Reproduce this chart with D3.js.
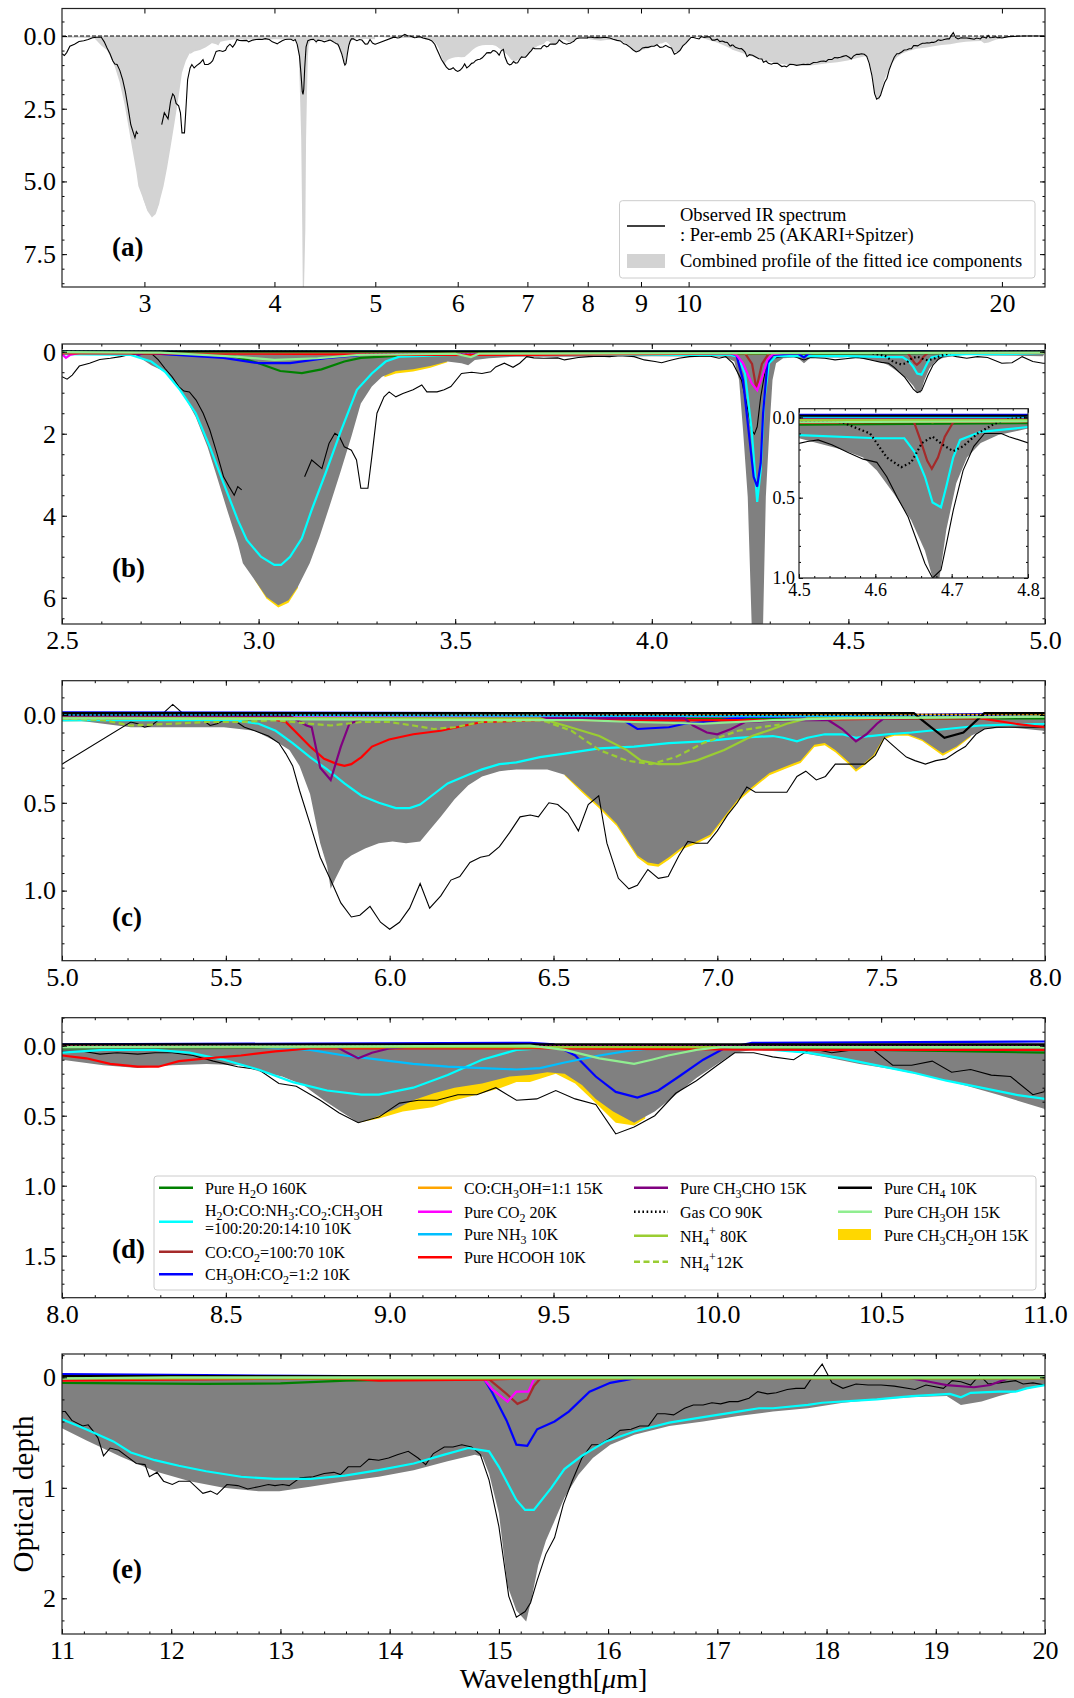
<!DOCTYPE html>
<html>
<head>
<meta charset="utf-8">
<script src="https://cdn.jsdelivr.net/npm/d3@7"></script>
<style>
body{margin:0;background:#fff}
svg text{font-family:"Liberation Serif","Times New Roman",serif;fill:#000}
</style>
</head>
<body>
<div id="chart"></div>
<script>
const width = 1074
const height = 1698
const left = 62, right = 1045

// observed spectrum (optical depth vs wavelength in um), broken near 3 um
const observed1 = [[2.5,.61],[2.513,.67],[2.526,.57],[2.544,.35],[2.57,.28],[2.596,.19],[2.623,.16],[2.649,.12],[2.675,.06],[2.70,.04],[2.727,.04],[2.745,.20],[2.762,.41],[2.78,.61],[2.797,.85],[2.81,.96],[2.824,.98],[2.841,1.18],[2.859,1.50],[2.876,1.91],[2.894,2.48],[2.911,3.05],[2.925,3.29],[2.938,3.50],[2.947,3.29],[2.957,3.37]]
const observed2 = [[3.117,3.05],[3.135,2.64],[3.161,2.85],[3.179,2.24],[3.194,1.99],[3.205,2.06],[3.218,2.32],[3.236,2.40],[3.249,2.64],[3.26,3.33],[3.278,3.33],[3.288,2.56],[3.301,1.50],[3.319,1.10],[3.332,.98],[3.349,1.10],[3.367,1.02],[3.393,.93],[3.415,.81],[3.428,.98],[3.454,.98],[3.472,.93],[3.489,.85],[3.516,.53],[3.542,.50],[3.568,.53],[3.59,.49],[3.603,.37],[3.625,.28],[3.647,.38],[3.664,.28],[3.682,.12],[3.70,.15],[3.725,.16],[3.761,.15],[3.778,.20],[3.813,.14],[3.84,.12],[3.866,.11],[3.893,.12],[3.919,.09],[3.955,.12],[3.981,.20],[4.008,.24],[4.025,.27],[4.043,.22],[4.069,.16],[4.096,.12],[4.122,.11],[4.149,.11],[4.171,.16],[4.188,.12],[4.206,.28],[4.228,.69],[4.241,1.26],[4.254,1.91],[4.261,2.01],[4.268,1.83],[4.277,1.10],[4.29,.37],[4.307,.16],[4.334,.12],[4.36,.11],[4.387,.20],[4.404,.14],[4.44,.16],[4.466,.20],[4.493,.17],[4.511,.15],[4.525,.14],[4.543,.17],[4.565,.22],[4.584,.26],[4.602,.28],[4.615,.37],[4.629,.50],[4.643,.62],[4.656,.79],[4.665,.91],[4.675,1.0],[4.686,.95],[4.693,.79],[4.702,.58],[4.715,.33],[4.729,.18],[4.743,.10],[4.765,.10],[4.775,.12],[4.801,.16],[4.828,.12],[4.854,.14],[4.89,.28],[4.916,.27],[4.942,.12],[4.969,.24],[4.995,.28],
[5.0,.28],[5.21,.04],[5.231,.05],[5.252,.07],[5.273,.06],[5.294,.03],[5.315,-.02],[5.338,-.06],[5.368,-.01],[5.40,0],[5.431,.03],[5.452,.06],[5.473,.05],[5.494,.03],[5.525,.03],[5.557,.07],[5.588,.09],[5.63,.12],[5.662,.16],[5.683,.22],[5.704,.29],[5.725,.43],[5.757,.62],[5.788,.81],[5.82,.94],[5.851,1.07],[5.883,1.15],[5.909,1.14],[5.94,1.09],[5.972,1.18],[6.0,1.22],[6.03,1.18],[6.061,1.10],[6.093,.96],[6.122,1.10],[6.156,1.03],[6.187,.94],[6.214,.92],[6.245,.84],[6.277,.81],[6.303,.80],[6.335,.75],[6.366,.67],[6.398,.58],[6.429,.57],[6.454,.58],[6.486,.50],[6.513,.51],[6.544,.56],[6.576,.66],[6.606,.51],[6.638,.46],[6.663,.73],[6.698,.93],[6.73,.99],[6.756,.97],[6.788,.88],[6.82,.93],[6.85,.92],[6.883,.80],[6.91,.72],[6.936,.73],[6.97,.73],[7.0,.66],[7.031,.57],[7.061,.50],[7.09,.41],[7.116,.44],[7.169,.44],[7.212,.44],[7.243,.35],[7.27,.32],[7.302,.37],[7.33,.35],[7.36,.28],[7.392,.28],[7.423,.28],[7.45,.28],[7.482,.23],[7.51,.13],[7.54,.18],[7.577,.24],[7.603,.26],[7.635,.28],[7.667,.26],[7.697,.25],[7.73,.21],[7.757,.18],[7.789,.11],[7.815,.08],[7.852,.07],[7.91,.07],[7.997,.07],
[8.0,.04],[8.063,.04],[8.116,.06],[8.168,.05],[8.231,.06],[8.284,.05],[8.336,.05],[8.4,.07],[8.462,.11],[8.536,.15],[8.6,.17],[8.662,.27],[8.715,.29],[8.788,.39],[8.846,.48],[8.904,.55],[8.967,.51],[9.03,.41],[9.088,.39],[9.145,.39],[9.208,.35],[9.266,.35],[9.324,.30],[9.387,.39],[9.449,.38],[9.507,.32],[9.566,.38],[9.629,.42],[9.69,.63],[9.746,.58],[9.809,.50],[9.873,.34],[9.936,.25],[10.0,.14],[10.053,.05],[10.111,.05],[10.169,.08],[10.233,.10],[10.286,.02],[10.349,.05],[10.413,.03],[10.476,.03],[10.535,.14],[10.593,.14],[10.656,.11],[10.715,.19],[10.773,.17],[10.836,.21],[10.895,.22],[10.963,.35],[10.997,.33],
[11.0,.31],[11.03,.31],[11.09,.39],[11.19,.44],[11.24,.43],[11.28,.48],[11.33,.55],[11.38,.71],[11.44,.64],[11.52,.66],[11.60,.72],[11.68,.78],[11.76,.79],[11.80,.90],[11.87,.86],[11.93,.94],[12.01,.97],[12.07,.94],[12.17,.94],[12.29,1.05],[12.36,1.03],[12.42,1.06],[12.51,.97],[12.61,.98],[12.70,1.01],[12.80,.99],[12.89,.97],[12.95,.98],[13.02,.97],[13.08,.98],[13.18,.91],[13.30,.90],[13.40,.87],[13.49,.86],[13.55,.88],[13.62,.81],[13.73,.81],[13.81,.74],[13.90,.75],[13.99,.73],[14.07,.70],[14.17,.67],[14.26,.73],[14.33,.79],[14.40,.69],[14.50,.63],[14.58,.63],[14.66,.61],[14.75,.63],[14.83,.70],[14.91,.93],[15.0,1.35],[15.09,1.98],[15.16,2.17],[15.24,2.12],[15.29,2.04],[15.35,1.84],[15.43,1.60],[15.51,1.45],[15.59,1.15],[15.67,.94],[15.76,.73],[15.85,.61],[15.92,.61],[16.02,.55],[16.11,.48],[16.21,.47],[16.29,.44],[16.37,.44],[16.45,.33],[16.52,.33],[16.60,.34],[16.70,.28],[16.78,.25],[16.87,.25],[16.95,.23],[17.03,.24],[17.11,.22],[17.19,.22],[17.29,.19],[17.37,.13],[17.46,.15],[17.54,.14],[17.64,.11],[17.72,.10],[17.80,.10],[17.89,-.03],[17.96,-.12],[18.05,.05],[18.15,.10],[18.27,.06],[18.38,.07],[18.50,.07],[18.62,.08],[18.81,.11],[18.91,.07],[19.07,.10],[19.15,.03],[19.23,.04],[19.32,.07],[19.40,-.02],[19.48,.06],[19.58,.05],[19.73,.03],[19.80,.06],[19.89,.05],[20.0,.07],[20.3,.02],[21,0],[22,0]]

// combined profile of the fitted ice components
const combinedFit = [[2.5,.06],[2.6,.06],[2.685,.08],[2.7,.16],[2.727,.33],[2.762,.49],[2.78,.69],[2.81,1.06],[2.84,1.59],[2.87,2.32],[2.894,3.05],[2.92,3.86],[2.947,4.67],[2.96,5.16],[2.99,5.57],[3.02,5.98],[3.05,6.18],[3.076,6.06],[3.10,5.73],[3.13,5.16],[3.155,4.51],[3.18,3.78],[3.207,2.97],[3.236,2.07],[3.26,1.26],[3.288,.85],[3.314,.61],[3.349,.47],[3.393,.43],[3.437,.35],[3.48,.24],[3.516,.28],[3.533,.33],[3.55,.20],[3.586,.16],[3.655,.12],[3.866,.12],[4.0,.11],[4.184,.12],[4.21,.24],[4.222,.69],[4.232,1.91],[4.244,3.54],[4.254,6.65],[4.262,10],[4.283,6.65],[4.29,3.54],[4.299,1.91],[4.307,.69],[4.316,.28],[4.334,.16],[4.37,.14],[4.387,.28],[4.404,.14],[4.484,.14],[4.5,.13],[4.556,.20],[4.584,.25],[4.602,.33],[4.625,.48],[4.647,.64],[4.665,.83],[4.675,1.0],[4.684,1.0],[4.693,.70],[4.706,.41],[4.72,.25],[4.738,.16],[4.761,.11],[4.8,.07],[4.85,.09],[4.995,.11],
[5.0,.02],[5.126,.05],[5.21,.07],[5.336,.07],[5.494,.07],[5.588,.09],[5.652,.15],[5.694,.20],[5.725,.29],[5.757,.45],[5.788,.73],[5.809,.86],[5.82,.99],[5.835,.93],[5.862,.83],[5.883,.80],[5.925,.76],[5.967,.73],[6.009,.72],[6.05,.73],[6.093,.72],[6.124,.65],[6.156,.58],[6.198,.48],[6.24,.40],[6.282,.35],[6.335,.32],[6.387,.31],[6.43,.31],[6.481,.31],[6.534,.34],[6.587,.43],[6.64,.52],[6.693,.62],[6.756,.80],[6.788,.84],[6.82,.85],[6.852,.81],[6.894,.75],[6.936,.72],[6.979,.68],[7.021,.58],[7.063,.48],[7.106,.41],[7.159,.33],[7.212,.29],[7.254,.26],[7.296,.17],[7.328,.16],[7.36,.20],[7.397,.26],[7.423,.31],[7.445,.28],[7.476,.23],[7.508,.13],[7.54,.11],[7.582,.11],[7.625,.14],[7.688,.22],[7.73,.18],[7.773,.12],[7.815,.08],[7.889,.07],[7.995,.09],
[8.0,.10],[8.126,.14],[8.231,.16],[8.336,.14],[8.441,.13],[8.546,.14],[8.61,.19],[8.672,.22],[8.736,.28],[8.799,.39],[8.851,.47],[8.904,.55],[8.946,.52],[9.02,.45],[9.072,.39],[9.135,.34],[9.198,.30],[9.282,.27],[9.366,.22],[9.428,.21],[9.481,.19],[9.534,.20],[9.587,.28],[9.629,.38],[9.682,.47],[9.746,.55],[9.809,.47],[9.873,.35],[9.936,.23],[10.0,.13],[10.053,.05],[10.106,.03],[10.169,.03],[10.254,.05],[10.328,.08],[10.434,.13],[10.54,.17],[10.646,.22],[10.752,.28],[10.857,.35],[10.997,.45],
[11.0,.46],[11.22,.57],[11.54,.72],[11.85,.85],[12.17,.94],[12.48,1.0],[12.80,1.03],[12.99,1.03],[13.27,.99],[13.59,.94],[13.90,.90],[14.22,.84],[14.53,.76],[14.78,.70],[14.85,.72],[14.91,.87],[15.0,1.23],[15.08,1.89],[15.16,2.11],[15.25,2.21],[15.30,2.0],[15.36,1.7],[15.43,1.48],[15.5,1.32],[15.60,1.09],[15.73,.88],[15.86,.73],[16.02,.61],[16.24,.52],[16.56,.44],[16.87,.40],[17.19,.35],[17.51,.31],[17.83,.28],[18.15,.23],[18.46,.20],[18.78,.18],[19.1,.17],[19.23,.25],[19.42,.22],[19.58,.17],[19.73,.13],[20.0,.07],[20.3,.02],[22,0]]

// lower edge of the CH3CH2OH contribution, where it shows below the rest
const ethanolEdge1 = [[2.99,5.57],[3.02,6.02],[3.05,6.24],[3.076,6.12],[3.10,5.76]]
const ethanolEdge2 = [[3.32,.62],[3.349,.53],[3.393,.48],[3.437,.39],[3.48,.26]]
const ethanolEdge3 = [[6.534,.345],[6.587,.442],[6.64,.532],[6.693,.632],[6.756,.812],[6.788,.855],[6.82,.864],[6.852,.824],[6.894,.763],[6.936,.733],[6.979,.693],[7.021,.593],[7.063,.493],[7.106,.423],[7.159,.343],[7.212,.303],[7.254,.273],[7.296,.183],[7.328,.173],[7.36,.213],[7.397,.273],[7.423,.323],[7.445,.293],[7.476,.243],[7.508,.138],[7.54,.118],[7.582,.118],[7.625,.148],[7.688,.232],[7.73,.188],[7.773,.125]]
const ethanolEdge4 = [[8.904,.55],[8.967,.52],[9.04,.47],[9.13,.44],[9.18,.40],[9.266,.35],[9.34,.30],[9.387,.26],[9.428,.26],[9.507,.20],[9.566,.27],[9.629,.41],[9.69,.55],[9.746,.57],[9.78,.52]]

// fitted ice components
const h2o160 = [[2.5,.04],[2.75,.05],[2.9,.09],[2.94,.12],[3.0,.28],[3.055,.47],[3.11,.52],[3.16,.43],[3.218,.24],[3.26,.15],[3.35,.10],[3.5,.08],[4.0,.06],[5.0,.03],[6.0,.02],[8.0,.02],[9.5,.01],[10.2,.02],[11.0,.05],[11.6,.055],[12.3,.06],[13.0,.055],[13.6,.03],[14.2,.02],[14.85,.01],[15.5,0],[20,0]]
const mixture = [[2.5,.06],[2.675,.08],[2.727,.24],[2.762,.49],[2.80,.93],[2.84,1.5],[2.876,2.32],[2.911,3.21],[2.947,4.1],[2.97,4.59],[3.006,5.0],[3.04,5.2],[3.057,5.2],[3.08,5.0],[3.11,4.55],[3.135,3.86],[3.17,2.97],[3.207,1.99],[3.25,.93],[3.288,.53],[3.323,.24],[3.358,.12],[3.5,.08],[4.2,.08],[4.219,.12],[4.237,.53],[4.254,1.91],[4.268,3.66],[4.277,2.89],[4.285,1.26],[4.298,.28],[4.316,.11],[4.5,.11],[4.602,.13],[4.638,.13],[4.652,.22],[4.665,.37],[4.675,.53],[4.686,.56],[4.693,.43],[4.702,.25],[4.711,.14],[4.738,.09],[4.8,.06],[4.9,.06],[5.0,.03],[5.44,.03],[5.525,.03],[5.6,.05],[5.652,.09],[5.704,.16],[5.757,.24],[5.809,.31],[5.862,.39],[5.914,.46],[5.967,.50],[6.019,.53],[6.061,.53],[6.093,.51],[6.135,.45],[6.177,.39],[6.24,.34],[6.282,.31],[6.335,.28],[6.387,.27],[6.459,.24],[6.534,.22],[6.64,.19],[6.746,.18],[6.852,.16],[6.957,.15],[7.063,.13],[7.169,.12],[7.201,.13],[7.243,.15],[7.275,.13],[7.328,.11],[7.381,.11],[7.423,.13],[7.466,.12],[7.519,.11],[7.593,.10],[7.699,.08],[7.804,.06],[7.997,.05],[8.126,.03],[8.284,.03],[8.389,.05],[8.494,.10],[8.599,.17],[8.704,.26],[8.809,.32],[8.914,.35],[8.967,.35],[9.072,.30],[9.177,.21],[9.282,.10],[9.387,.03],[9.459,.02],[9.534,.01],[9.746,.01],[10.0,.01],[10.169,.03],[10.275,.05],[10.381,.09],[10.487,.14],[10.593,.19],[10.699,.25],[10.805,.30],[10.91,.35],[11.0,.38],[11.22,.47],[11.47,.58],[11.63,.68],[11.85,.75],[12.07,.80],[12.32,.85],[12.64,.90],[12.95,.92],[13.27,.92],[13.59,.89],[13.90,.84],[14.22,.78],[14.50,.70],[14.72,.64],[14.91,.67],[15.0,.81],[15.16,1.11],[15.24,1.20],[15.32,1.20],[15.48,1.0],[15.60,.83],[15.76,.71],[15.98,.58],[16.24,.49],[16.56,.41],[16.87,.36],[17.19,.31],[17.38,.28],[17.51,.28],[17.83,.25],[17.96,.23],[18.46,.20],[18.78,.17],[19.13,.15],[19.23,.18],[19.32,.14],[19.58,.13],[19.73,.13],[19.83,.10],[20.0,.07]]
const coco2 = [[2.5,.01],[4.235,.01],[4.255,.3],[4.266,.9],[4.28,.3],[4.3,.01],[4.65,.02],[4.659,.14],[4.668,.27],[4.674,.32],[4.682,.25],[4.691,.12],[4.702,.03],[4.75,.01],[14.9,.01],[15.07,.15],[15.17,.24],[15.26,.20],[15.32,.08],[15.38,.01],[20,.01]]
const ch3ohco2 = [[2.5,.02],[2.68,.03],[2.695,.07],[2.71,.03],[2.911,.15],[3.0,.28],[3.08,.28],[3.17,.16],[3.26,.08],[3.4,.04],[4.2,.04],[4.215,.08],[4.232,.69],[4.246,1.91],[4.259,3.05],[4.268,3.29],[4.277,2.72],[4.283,1.5],[4.294,.28],[4.307,.08],[4.37,.04],[4.387,.14],[4.40,.04],[4.45,-.015],[5.0,-.015],[6.6,-.01],[6.714,.03],[6.756,.08],[6.852,.07],[6.9,.05],[6.957,.04],[7.1,.01],[8.0,-.01],[9.428,-.02],[9.5,-.01],[9.566,.07],[9.629,.22],[9.69,.33],[9.756,.37],[9.82,.32],[9.883,.22],[9.957,.10],[10.02,.02],[10.106,-.02],[11.0,-.03],[12.3,-.02],[13.6,-.01],[14.85,-.01],[14.94,.14],[15.07,.39],[15.16,.61],[15.26,.62],[15.35,.47],[15.51,.40],[15.64,.31],[15.83,.13],[16.02,.05],[16.24,.01],[16.56,-.01],[20,-.01]]
const coch3oh = [[2.5,0],[4.62,0],[4.66,.02],[4.675,.03],[4.69,.02],[4.72,0],[20,0]]
const co2pure = [[2.5,.06],[2.51,.15],[2.52,.08],[2.55,.02],[4.2,.02],[4.215,.08],[4.232,.28],[4.254,.77],[4.268,.94],[4.281,.61],[4.294,.2],[4.307,.06],[4.35,.01],[14.85,0],[14.94,.11],[15.08,.22],[15.16,.13],[15.27,.13],[15.32,.02],[15.4,0],[20,0]]
const nh3 = [[2.5,-.01],[8.0,.01],[8.6,.01],[8.757,.03],[8.862,.07],[8.967,.10],[9.072,.13],[9.177,.15],[9.282,.16],[9.387,.17],[9.459,.16],[9.534,.12],[9.64,.07],[9.746,.03],[9.85,.01],[11,.01],[12,0],[20,0]]
const hcooh = [[2.5,.04],[3.0,.05],[3.2,.06],[3.4,.08],[3.7,.08],[4.0,.06],[4.2,.04],[5.0,.02],[5.63,.02],[5.683,.04],[5.715,.10],[5.757,.18],[5.8,.25],[5.84,.28],[5.862,.29],[5.883,.28],[5.914,.24],[5.946,.18],[5.998,.14],[6.072,.11],[6.156,.09],[6.23,.06],[6.282,.04],[6.459,.03],[7.169,.03],[7.6,.02],[7.804,.02],[7.91,.05],[8.0,.07],[8.074,.09],[8.147,.13],[8.231,.15],[8.294,.15],[8.357,.11],[8.441,.09],[8.546,.07],[8.651,.04],[8.757,.02],[9.5,.02],[10.3,.03],[11.0,.03],[12.0,.02],[13.6,.01],[13.9,.03],[14.85,.02],[15.3,.01],[20,0]]
const ch3cho = [[2.5,.01],[5.7,.01],[5.746,.06],[5.762,.07],[5.788,.30],[5.82,.37],[5.851,.18],[5.877,.05],[5.92,.02],[6.9,.02],[6.926,.06],[6.968,.10],[7.0,.11],[7.042,.08],[7.085,.04],[7.2,.03],[7.339,.03],[7.381,.08],[7.423,.15],[7.455,.11],[7.487,.05],[7.508,.02],[8.0,.01],[8.84,.01],[8.862,.04],[8.904,.09],[8.946,.05],[8.998,.02],[9.05,.01],[11.0,0],[12.6,0],[12.95,.01],[13.2,0],[18.7,0],[18.78,.01],[18.94,.04],[19.1,.07],[19.35,.09],[19.5,.07],[19.66,.01],[20,0]]
const gasco = [[2.5,0],[4.5,.02],[4.556,.03],[4.593,.10],[4.615,.25],[4.634,.31],[4.647,.28],[4.661,.16],[4.675,.12],[4.688,.17],[4.702,.21],[4.715,.18],[4.734,.10],[4.756,.04],[4.775,.01],[4.8,0],[20,0]]
const nh4_80 = [[2.5,.01],[6.459,.02],[6.534,.06],[6.64,.12],[6.724,.20],[6.767,.26],[6.82,.28],[6.883,.28],[6.936,.26],[7.021,.20],[7.106,.12],[7.169,.08],[7.212,.05],[7.275,.02],[8.0,.01],[20,.01]]
const nh4_12 = [[5.0,.02],[5.126,.03],[5.21,.06],[5.336,.05],[5.441,.04],[5.546,.04],[5.651,.03],[5.757,.05],[5.82,.06],[5.914,.04],[5.998,.04],[6.072,.06],[6.135,.08],[6.198,.07],[6.282,.04],[6.459,.03],[6.481,.04],[6.555,.09],[6.64,.20],[6.724,.26],[6.798,.28],[6.873,.24],[6.957,.16],[7.063,.09],[7.169,.06],[7.19,.055]]
const ch4 = [[2.5,-.01],[7.6,-.01],[7.625,.03],[7.693,.13],[7.751,.10],[7.815,-.01],[20,-.01]]
const ch3oh15 = [[2.5,.01],[2.75,.02],[2.94,.12],[3.04,.20],[3.15,.16],[3.25,.08],[3.5,.05],[3.54,.13],[3.56,.05],[5.0,.02],[6.43,.03],[6.587,.03],[6.746,.04],[6.957,.05],[7.169,.03],[7.381,.02],[8.0,.01],[9.428,0],[9.534,.03],[9.64,.09],[9.746,.13],[9.8,.10],[9.85,.07],[9.936,.03],[10.01,.01],[11.0,.01],[12,0],[20,0]]

// tick values
const ticksA = [3,4,5,6,7,8,9,10,20]
const ticksB = [2.5,3.0,3.5,4.0,4.5,5.0]
const ticksC = [5.0,5.5,6.0,6.5,7.0,7.5,8.0]
const ticksD = [8.0,8.5,9.0,9.5,10.0,10.5,11.0]
const ticksE = [11,12,13,14,15,16,17,18,19,20]
const ticksInset = [4.5,4.6,4.7,4.8]

const components = [
  {data:h2o160, color:"#008000", label:"Pure H_2O 160K"},
  {data:mixture, color:"#00ffff", label:"H_2O:CO:NH_3:CO_2:CH_3OH", label2:"=100:20:20:14:10 10K"},
  {data:coco2, color:"#a52a2a", label:"CO:CO_2=100:70 10K"},
  {data:ch3ohco2, color:"#0000ff", label:"CH_3OH:CO_2=1:2 10K"},
  {data:coch3oh, color:"#ffa500", label:"CO:CH_3OH=1:1 15K"},
  {data:co2pure, color:"#ff00ff", label:"Pure CO_2 20K"},
  {data:nh3, color:"#00bfff", label:"Pure NH_3 10K"},
  {data:hcooh, color:"#ff0000", label:"Pure HCOOH 10K"},
  {data:ch3cho, color:"#800080", label:"Pure CH_3CHO 15K"},
  {data:gasco, color:"#000000", label:"Gas CO 90K", dash:"1.6,2.6"},
  {data:nh4_80, color:"#9acd32", label:"NH_4^+ 80K"},
  {data:nh4_12, color:"#9acd32", label:"NH_4^+12K", dash:"6,3.5"},
  {data:ch4, color:"#000000", label:"Pure CH_4 10K"},
  {data:ch3oh15, color:"#90ee90", label:"Pure CH_3OH 15K"}
]
const ethanolEdges = [ethanolEdge1, ethanolEdge2, ethanolEdge3, ethanolEdge4]

const serif = "'Liberation Serif', 'Times New Roman', serif"
const svg = d3.select("div#chart").append("svg").attr("width",width).attr("height",height)

function richText(sel, str, size){
  const parts = []
  let buf = ""
  for (let i = 0; i < str.length; i++){
    const c = str[i]
    if ((c === "_" || c === "^") && i + 1 < str.length){
      if (buf) parts.push({t:buf, s:0})
      buf = ""
      parts.push({t:str[i+1], s: c === "_" ? 1 : -1})
      i++
    } else buf += c
  }
  if (buf) parts.push({t:buf, s:0})
  let cur = 0
  parts.forEach(p => {
    const target = p.s === 1 ? size*0.25 : p.s === -1 ? -size*0.4 : 0
    sel.append("tspan").attr("dy", target - cur).attr("font-size", p.s ? size*0.75 : size).text(p.t)
    cur = target
  })
}

function minorTicks(domain, step){
  if (!step) return []
  const lo = Math.ceil(domain[0]/step - 1e-6), hi = Math.floor(domain[1]/step + 1e-6)
  return d3.range(lo, hi + 1).map(k => +(k*step).toFixed(4))
}

function drawSeries(plot, x, y, light){
  const area = d3.area().x(d => x(d[0])).y0(y(0)).y1(d => y(d[1]))
  const line = d3.line().x(d => x(d[0])).y(d => y(d[1]))
  ethanolEdges.forEach(e => plot.append("path").attr("d", area(e)).attr("fill", light ? "#d3d3d3" : "#ffd700"))
  plot.append("path").attr("d", area(combinedFit)).attr("fill", light ? "#d3d3d3" : "#808080")
  if (light){
    plot.append("line").attr("x1", left).attr("x2", right).attr("y1", y(0)).attr("y2", y(0))
      .attr("stroke","#000").attr("stroke-width",1).attr("stroke-dasharray","4,2")
  }
  ;[observed1, observed2].forEach(o => plot.append("path").attr("d", line(o)).attr("fill","none").attr("stroke","#000").attr("stroke-width",1.1))
  if (light) return
  components.forEach(c => {
    plot.append("path").attr("d", line(c.data)).attr("fill","none").attr("stroke",c.color)
      .attr("stroke-width",2.2).attr("stroke-dasharray", c.dash || null)
  })
}

function drawAxes(g, x, y, box, o){
  const bottom = box.y + box.h
  g.append("g").attr("transform",`translate(0,${bottom})`)
    .call(d3.axisBottom(x).tickValues(o.xTicks).tickSize(-o.major).tickSizeOuter(0).tickPadding(o.xPad).tickFormat(o.xFmt))
  g.append("g").attr("transform",`translate(0,${bottom})`)
    .call(d3.axisBottom(x).tickValues(o.xMinor).tickSize(-o.minor).tickSizeOuter(0).tickFormat(""))
  g.append("g").attr("transform",`translate(0,${box.y})`)
    .call(d3.axisTop(x).tickValues(o.xMinor).tickSize(-o.minor).tickSizeOuter(0).tickFormat(""))
  g.append("g").attr("transform",`translate(0,${box.y})`)
    .call(d3.axisTop(x).tickValues(o.xTicks).tickSize(-o.major).tickSizeOuter(0).tickFormat(""))
  g.append("g").attr("transform",`translate(${box.x},0)`)
    .call(d3.axisLeft(y).tickValues(o.yTicks).tickSize(-o.major).tickSizeOuter(0).tickPadding(o.yPad).tickFormat(o.yFmt))
  g.append("g").attr("transform",`translate(${box.x},0)`)
    .call(d3.axisLeft(y).tickValues(o.yMinor).tickSize(-o.minor).tickSizeOuter(0).tickFormat(""))
  g.append("g").attr("transform",`translate(${box.x+box.w},0)`)
    .call(d3.axisRight(y).tickValues(o.yMinor).tickSize(-o.minor).tickSizeOuter(0).tickFormat(""))
  g.append("g").attr("transform",`translate(${box.x+box.w},0)`)
    .call(d3.axisRight(y).tickValues(o.yTicks).tickSize(-o.major).tickSizeOuter(0).tickFormat(""))
  g.selectAll(".domain").remove()
  g.selectAll(".tick line").attr("stroke","#000").attr("stroke-width",1)
  g.selectAll(".tick text").style("font-size", o.fontSize + "px").style("font-family", serif).style("fill","#000")
  g.append("rect").attr("x",box.x).attr("y",box.y).attr("width",box.w).attr("height",box.h)
    .attr("fill","none").attr("stroke","#222").attr("stroke-width",1.2)
}

const panels = [
  {name:"a", top:8.5, h:278.5, log:true, xDomain:[2.5,22], yDomain:[-0.946,8.63], xTicks:ticksA, xMinorStep:0, yTicks:[0,2.5,5,7.5], yMinorStep:0.5, xFmt:d3.format("d"), yFmt:d3.format(".1f"), label:"(a)", labelY:256, light:true},
  {name:"b", top:344, h:280, xDomain:[2.5,5], yDomain:[-0.188,6.64], xTicks:ticksB, xMinorStep:0.1, yTicks:[0,2,4,6], yMinorStep:0.5, xFmt:d3.format(".1f"), yFmt:d3.format("d"), label:"(b)", labelY:577},
  {name:"c", top:680.7, h:280, xDomain:[5,8], yDomain:[-0.195,1.399], xTicks:ticksC, xMinorStep:0.1, yTicks:[0,0.5,1.0], yMinorStep:0.1, xFmt:d3.format(".1f"), yFmt:d3.format(".1f"), label:"(c)", labelY:926},
  {name:"d", top:1017.7, h:280, xDomain:[8,11], yDomain:[-0.2,1.8], xTicks:ticksD, xMinorStep:0.1, yTicks:[0,0.5,1.0,1.5], yMinorStep:0.1, xFmt:d3.format(".1f"), yFmt:d3.format(".1f"), label:"(d)", labelY:1258},
  {name:"e", top:1354, h:280, xDomain:[11,20], yDomain:[-0.211,2.323], xTicks:ticksE, xMinorStep:0.2, yTicks:[0,1,2], yMinorStep:0.2, xFmt:d3.format("d"), yFmt:d3.format("d"), label:"(e)", labelY:1578}
]

const defs = svg.append("defs")

panels.forEach(p => {
  const g = svg.append("g").attr("class","panel-"+p.name)
  const x = (p.log ? d3.scaleLog() : d3.scaleLinear()).domain(p.xDomain).range([left,right])
  const y = d3.scaleLinear().domain(p.yDomain).range([p.top, p.top + p.h])
  defs.append("clipPath").attr("id","clip"+p.name).append("rect")
    .attr("x",left).attr("y",p.top).attr("width",right-left).attr("height",p.h)
  const plot = g.append("g").attr("clip-path",`url(#clip${p.name})`)
  drawSeries(plot, x, y, p.light)
  drawAxes(g, x, y, {x:left, y:p.top, w:right-left, h:p.h}, {
    xTicks:p.xTicks, xMinor:minorTicks(p.xDomain, p.xMinorStep), yTicks:p.yTicks, yMinor:minorTicks(p.yDomain, p.yMinorStep),
    xFmt:p.xFmt, yFmt:p.yFmt, major:5, minor:2.5, fontSize:26, xPad:6.5, yPad:6
  })
  g.append("text").attr("x",112).attr("y",p.labelY).attr("font-size",27).attr("font-weight","bold").text(p.label)
})

// inset of panel (b)
{
  const box = {x:799, y:408.7, w:229, h:169.3}
  const g = svg.append("g").attr("class","inset")
  g.append("rect").attr("x",box.x).attr("y",box.y).attr("width",box.w).attr("height",box.h).attr("fill","#fff")
  const x = d3.scaleLinear().domain([4.5,4.8]).range([box.x, box.x+box.w])
  const y = d3.scaleLinear().domain([-0.054,1.0]).range([box.y, box.y+box.h])
  defs.append("clipPath").attr("id","clipInset").append("rect").attr("x",box.x).attr("y",box.y).attr("width",box.w).attr("height",box.h)
  const plot = g.append("g").attr("clip-path","url(#clipInset)")
  drawSeries(plot, x, y, false)
  drawAxes(g, x, y, box, {
    xTicks:ticksInset, xMinor:minorTicks([4.5,4.8],0.02), yTicks:[0,0.5,1.0], yMinor:minorTicks([-0.054,1.0],0.1),
    xFmt:d3.format(".1f"), yFmt:d3.format(".1f"), major:4, minor:2, fontSize:18, xPad:5, yPad:4
  })
}

// legend of panel (a)
{
  const g = svg.append("g").attr("class","legendA")
  g.append("rect").attr("x",619.5).attr("y",200.7).attr("width",415.5).attr("height",77.3).attr("rx",3)
    .attr("fill","#fff").attr("fill-opacity",0.8).attr("stroke","#cccccc")
  g.append("line").attr("x1",627).attr("x2",665).attr("y1",226).attr("y2",226).attr("stroke","#000").attr("stroke-width",1.3)
  g.append("rect").attr("x",627).attr("y",254).attr("width",38).attr("height",14).attr("fill","#d3d3d3")
  const lines = ["Observed IR spectrum", ": Per-emb 25 (AKARI+Spitzer)", "Combined profile of the fitted ice components"]
  const ys = [221, 241, 267]
  lines.forEach((t,i) => g.append("text").attr("x",680).attr("y",ys[i]).attr("font-size",18.5).text(t))
}

// legend of panel (d)
{
  const g = svg.append("g").attr("class","legendD")
  g.append("rect").attr("x",154).attr("y",1176).attr("width",882).attr("height",114).attr("rx",3)
    .attr("fill","#fff").attr("fill-opacity",0.8).attr("stroke","#cccccc")
  const colX = [159, 418, 634, 838]
  const rowY = [[1187.7,1221.7,1251.7,1274.3],[1187.7,1211.7,1234.3,1257.3],[1187.7,1211.7,1235.7,1261.7],[1187.7,1211.7,1234.5]]
  const entries = components.concat([{fill:"#ffd700", label:"Pure CH_3CH_2OH 15K"}])
  let k = 0
  rowY.forEach((col, ci) => col.forEach(ly => {
    const c = entries[k++]
    const x0 = colX[ci]
    if (c.fill){
      g.append("rect").attr("x",x0).attr("y",ly-5.5).attr("width",33).attr("height",11).attr("fill",c.fill)
    } else {
      g.append("line").attr("x1",x0).attr("x2",x0+34).attr("y1",ly).attr("y2",ly).attr("stroke",c.color)
        .attr("stroke-width",2.4).attr("stroke-dasharray",c.dash || null)
    }
    if (c.label2){
      richText(g.append("text").attr("x",x0+46).attr("y",ly-5.5), c.label, 16)
      richText(g.append("text").attr("x",x0+46).attr("y",ly+12.5), c.label2, 16)
    } else {
      richText(g.append("text").attr("x",x0+46).attr("y",ly+6), c.label, 16)
    }
  }))
}

// axis titles
svg.append("text").attr("transform","translate(33,1494) rotate(-90)").attr("text-anchor","middle")
  .attr("font-size",29).text("Optical depth")
{
  const t = svg.append("text").attr("x",553.5).attr("y",1688).attr("text-anchor","middle").attr("font-size",28)
  t.append("tspan").text("Wavelength[")
  t.append("tspan").attr("font-style","italic").text("\u03bc")
  t.append("tspan").text("m]")
}
</script>
</body>
</html>
